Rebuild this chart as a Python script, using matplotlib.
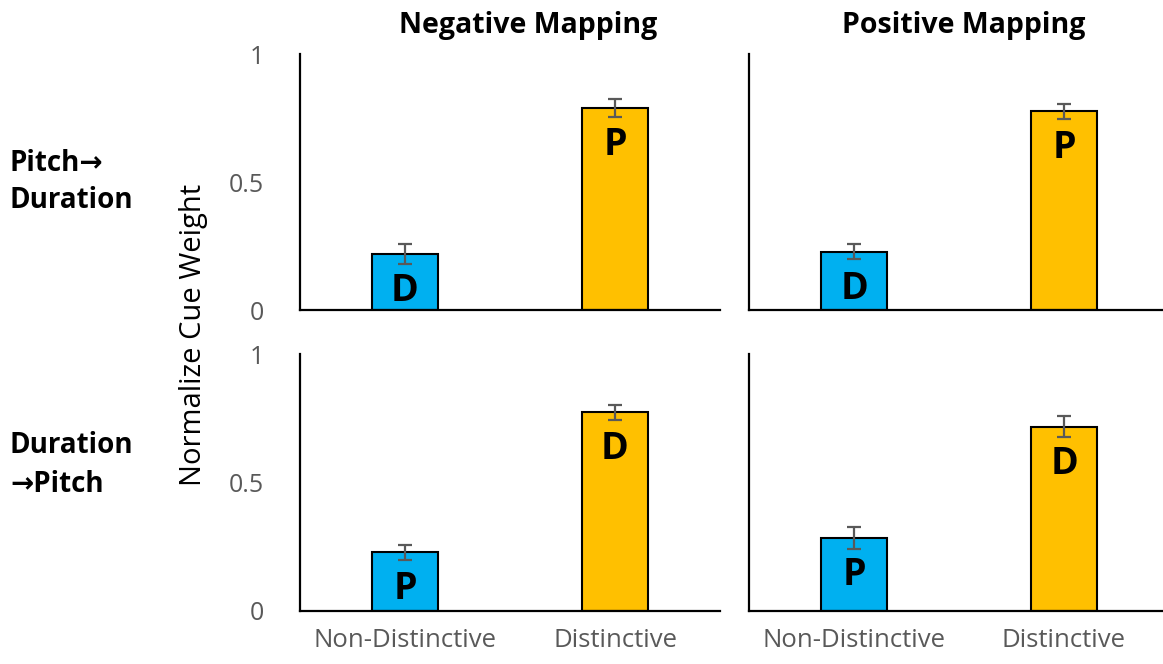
import matplotlib
matplotlib.use("Agg")
import matplotlib.pyplot as plt

# Data
categories = ["Non-Distinctive", "Distinctive"]
mappings = ["Negative Mapping", "Positive Mapping"]
row_labels = ["Pitch\u2192\nDuration", "Duration\n\u2192Pitch"]

# weights[row][col] -> [non-distinctive, distinctive]
weights = [
    [[0.219, 0.788], [0.228, 0.776]],
    [[0.228, 0.774], [0.284, 0.717]],
]
errors = [
    [[0.039, 0.035], [0.029, 0.029]],
    [[0.029, 0.029], [0.043, 0.041]],
]
bar_letters = [
    [["D", "P"], ["D", "P"]],
    [["P", "D"], ["P", "D"]],
]
yticks = [0, 0.5, 1]
ytick_labels = ["0", "0.5", "1"]

bar_colors = ["#00B0F0", "#FFC000"]
gray = "#595959"
fonts = ["Open Sans", "DejaVu Sans"]
plt.rcParams["font.family"] = fonts

W, H = 1163, 664
fig = plt.figure(figsize=(W / 100, H / 100), dpi=100)

# panel boxes in pixels: left edge, and (top, baseline) per row
lefts = [300, 749]
row_px = [(54, 310), (354, 611)]
ax_w = 420

for r in range(2):
    top, base = row_px[r]
    for c in range(2):
        ax = fig.add_axes([lefts[c] / W, (H - base) / H, ax_w / W, (base - top) / H])
        x = [0, 1]
        ax.bar(x, weights[r][c], width=0.315, color=bar_colors,
               edgecolor="black", linewidth=1.5, zorder=2)
        ax.errorbar(x, weights[r][c], yerr=errors[r][c], fmt="none",
                    ecolor=gray, elinewidth=1.6, capsize=5, capthick=1.6, zorder=3)
        for xi, v, t in zip(x, weights[r][c], bar_letters[r][c]):
            ax.annotate(t, (xi, v), xytext=(0, -37), textcoords="offset pixels",
                        ha="center", va="center", fontsize=27, fontweight="bold",
                        color="black", zorder=4)
        ax.set_xlim(-0.5, 1.5)
        ax.set_ylim(0, 1)
        for s in ["top", "right"]:
            ax.spines[s].set_visible(False)
        for s in ["left", "bottom"]:
            ax.spines[s].set_linewidth(1.6)
            ax.spines[s].set_color("black")
        ax.tick_params(length=0)
        ax.set_yticks(yticks)
        if c == 0:
            ax.set_yticklabels(ytick_labels, fontsize=18, color=gray)
            ax.tick_params(axis="y", pad=26)
        else:
            ax.set_yticklabels([])
        ax.set_xticks(x)
        if r == 1:
            ax.set_xticklabels(categories, fontsize=18.5, color=gray)
            ax.tick_params(axis="x", pad=12)
        else:
            ax.set_xticklabels([])
        ax.patch.set_alpha(0)

# column titles
fig.text(528 / W, 1 - 25 / H, mappings[0], ha="center", va="center",
         fontsize=20.5, fontweight="bold")
fig.text(964 / W, 1 - 25 / H, mappings[1], ha="center", va="center",
         fontsize=20.5, fontweight="bold")

# row labels
fig.text(10 / W, 1 - 182 / H, row_labels[0], ha="left", va="center",
         fontsize=20, fontweight="bold", linespacing=1.35)
fig.text(10 / W, 1 - 465 / H, row_labels[1], ha="left", va="center",
         fontsize=20, fontweight="bold", linespacing=1.45)

# shared y label
fig.text(193 / W, 1 - 335 / H, "Normalize Cue Weight", rotation=90,
         ha="center", va="center", fontsize=21, color="black")

fig.savefig("out.png", dpi=100)
